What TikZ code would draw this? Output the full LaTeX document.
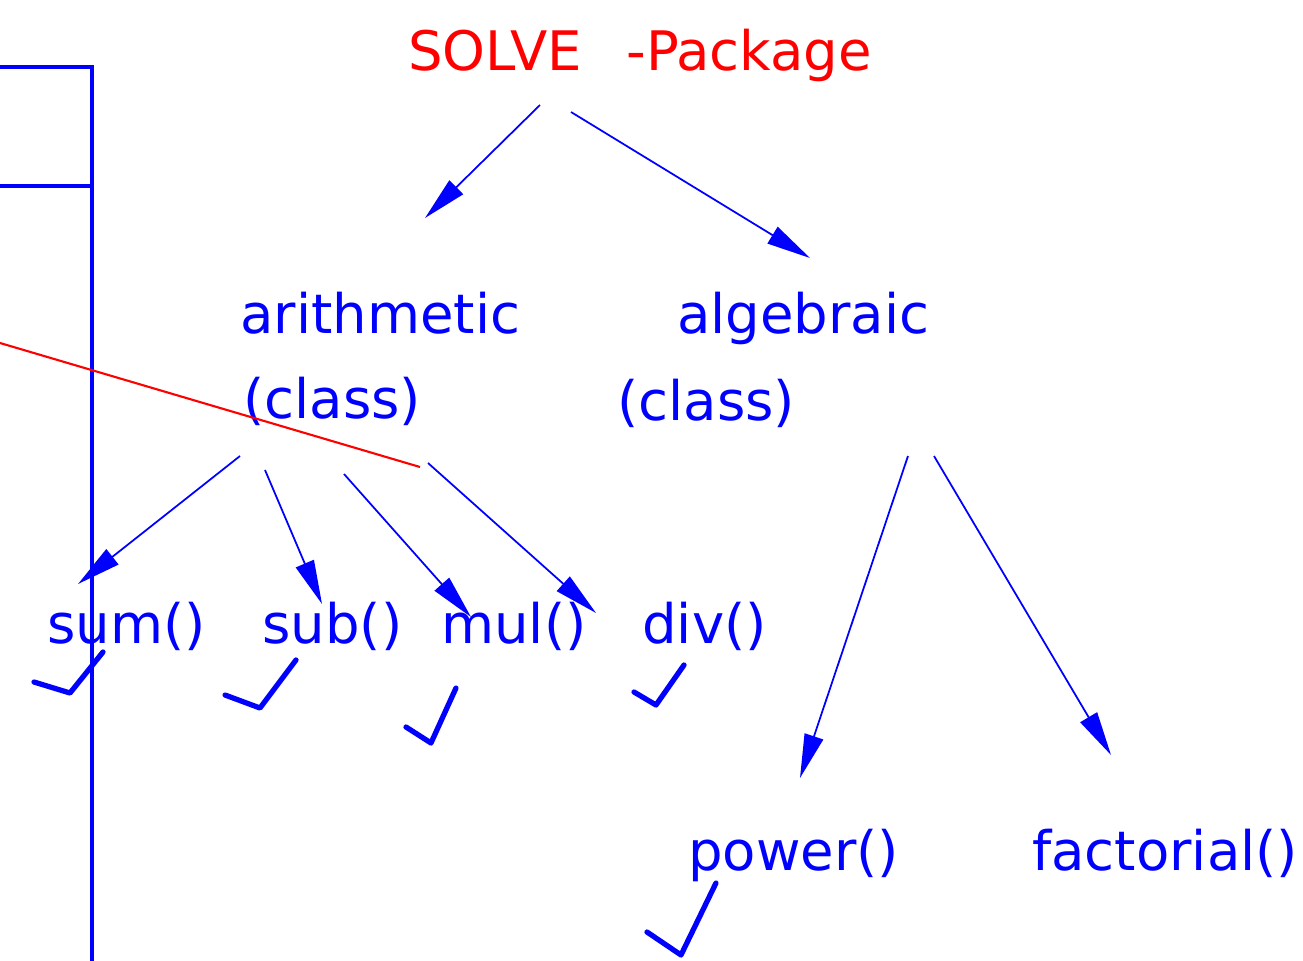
\documentclass[tikz,border=0pt]{standalone}
\usepackage{fontspec}
\setmainfont{DejaVu Sans}
\usetikzlibrary{arrows.meta}
\definecolor{pblue}{RGB}{0,0,255}
\definecolor{pred}{RGB}{255,0,0}
\begin{document}
\begin{tikzpicture}[x=0.02cm,y=-0.02cm,
  lbl/.style={inner sep=0pt, anchor=base west, text=pblue, font=\fontsize{31}{37}\selectfont},
  arr/.style={draw=pblue, line width=1pt, -{Triangle[length=25pt,width=11pt]}},
  tick/.style={draw=pblue, line width=3pt, line cap=round, line join=round},
  frame/.style={draw=pblue, line width=1.9pt},
  redline/.style={draw=pred, line width=1.2pt}]
\useasboundingbox (0,0) rectangle (1303,961);

% labels
\node[lbl, text=pred] (pkg) at (408,70) {SOLVE\hspace{0.82em}-Package};
\node[lbl] (arith) at (240,333) {arithmetic};
\node[lbl] (arithc) at (243,418) {(class)};
\node[lbl] (alg) at (677,333) {algebraic};
\node[lbl] (algc) at (617,420) {(class)};
\node[lbl] (sum) at (47,643) {sum()};
\node[lbl] (sub) at (262,643) {sub()};
\node[lbl] (mul) at (441,643) {mul()};
\node[lbl] (div) at (642,643) {div()};
\node[lbl] (pow) at (688,870) {power()};
\node[lbl] (fact) at (1032,870) {factorial()};

% arrow end points
\coordinate (a1s) at (540,105); \coordinate (a1e) at (425,218);
\coordinate (a2s) at (571,112); \coordinate (a2e) at (810,258);
\coordinate (b1s) at (240,456); \coordinate (b1e) at (78,584);
\coordinate (b2s) at (265,470); \coordinate (b2e) at (322,604);
\coordinate (b3s) at (344,474); \coordinate (b3e) at (471,617);
\coordinate (b4s) at (428,463); \coordinate (b4e) at (596,613);
\coordinate (c1s) at (908,456); \coordinate (c1e) at (800,778);
\coordinate (c2s) at (934,456); \coordinate (c2e) at (1111,755);

% frame on the left
\draw[frame] (0,67) -- (92,67) -- (92,961);
\draw[frame] (0,186) -- (92,186);

% red line
\coordinate (r1) at (0,343); \coordinate (r2) at (420,467);
\draw[redline] (r1) -- (r2);

% arrows
\draw[arr] (a1s) -- (a1e);
\draw[arr] (a2s) -- (a2e);
\draw[arr] (b1s) -- (b1e);
\draw[arr] (b2s) -- (b2e);
\draw[arr] (b3s) -- (b3e);
\draw[arr] (b4s) -- (b4e);
\draw[arr] (c1s) -- (c1e);
\draw[arr] (c2s) -- (c2e);

% check marks
\draw[tick] (34,682) -- (70,693) -- (103,652);
\draw[tick] (225,695) -- (260,708) -- (296,660);
\draw[tick] (406,727) -- (431,743) -- (456,688);
\draw[tick] (634,692) -- (656,705) -- (684,665);
\draw[tick] (647,932) -- (681,955) -- (716,883);
\end{tikzpicture}
\end{document}
